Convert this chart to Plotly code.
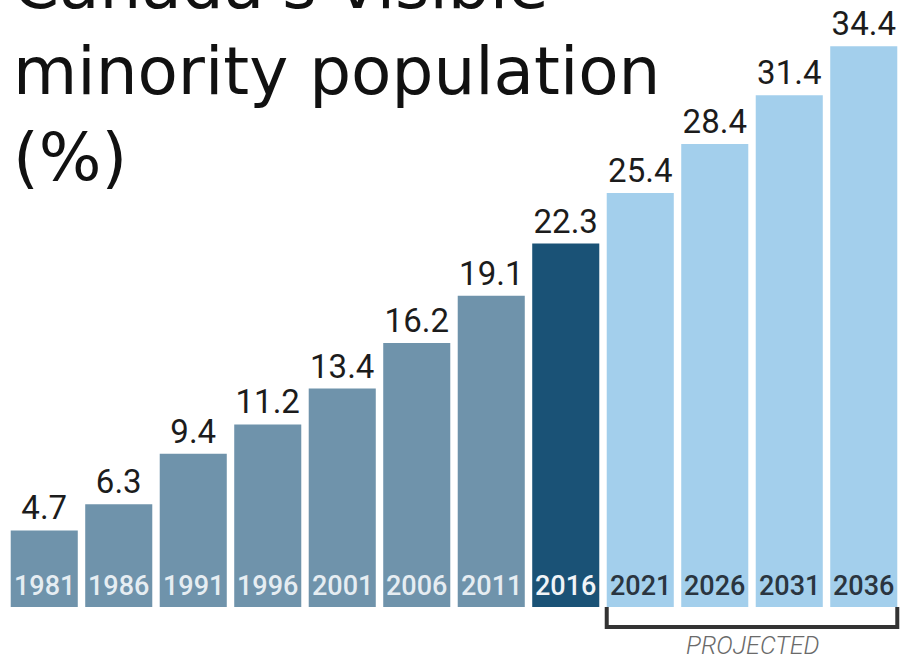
import plotly.graph_objects as go

years = ["1981", "1986", "1991", "1996", "2001", "2006", "2011", "2016",
         "2021", "2026", "2031", "2036"]
values = [4.7, 6.3, 9.4, 11.2, 13.4, 16.2, 19.1, 22.3, 25.4, 28.4, 31.4, 34.4]
kind = ["hist"] * 7 + ["current"] + ["proj"] * 4

bar_colors = {"hist": "#6f93ab", "current": "#1a5276", "proj": "#a3cfec"}
year_colors = {"hist": "#e6edf2", "current": "#f0f4f7", "proj": "#2a3540"}

NUM_FONT = "Roboto, sans-serif"
BARGAP = 0.1

fig = go.Figure()
fig.add_trace(go.Bar(
    x=years, y=values,
    marker=dict(color=[bar_colors[k] for k in kind], line=dict(width=0)),
    text=[f"{v:.1f}" for v in values],
    textposition="outside",
    textfont=dict(family=NUM_FONT, size=33, color="#1c1c1c"),
    cliponaxis=False,
    hoverinfo="skip",
))

for i, (yr, k) in enumerate(zip(years, kind)):
    fig.add_annotation(
        x=i, y=0, xref="x", yref="y", text=yr, showarrow=False,
        yanchor="bottom", xanchor="center", yshift=3,
        font=dict(family=NUM_FONT, size=27, color=year_colors[k], weight=500),
    )

proj_idx = [i for i, k in enumerate(kind) if k == "proj"]
x0 = proj_idx[0] - (1 - BARGAP) / 2
x1 = proj_idx[-1] + (1 - BARGAP) / 2
yb = -0.033
fig.add_shape(
    type="path", xref="x", yref="paper",
    path=f"M {x0},0 L {x0},{yb} L {x1},{yb} L {x1},0",
    line=dict(color="#333333", width=4),
)
fig.add_annotation(
    x=(proj_idx[0] + proj_idx[-1]) / 2, y=-0.064, xref="x", yref="paper",
    text="<i>PROJECTED</i>", showarrow=False, yanchor="middle", xanchor="center",
    font=dict(family="Roboto, sans-serif", size=25, color="#6a6a6a", weight=300),
)

fig.add_annotation(
    x=0.004, y=1 - 72 / 607, xref="paper", yref="paper",
    text="Canada's visible<br>minority population<br>(%)",
    showarrow=False, xanchor="left", yanchor="middle", align="left",
    font=dict(family="DejaVu Sans, sans-serif", size=66, color="#111111"),
)

fig.update_layout(
    width=904, height=662,
    margin=dict(l=7, r=3, t=0, b=55),
    paper_bgcolor="white", plot_bgcolor="white",
    bargap=BARGAP, showlegend=False,
    xaxis=dict(visible=False, type="category", range=[-0.5, 11.5]),
    yaxis=dict(visible=False, range=[0, 607 / 16.3]),
)

fig.write_html("out.html", config={"displayModeBar": False},
               post_script="document.body.style.margin='0';document.body.style.overflow='hidden';")
